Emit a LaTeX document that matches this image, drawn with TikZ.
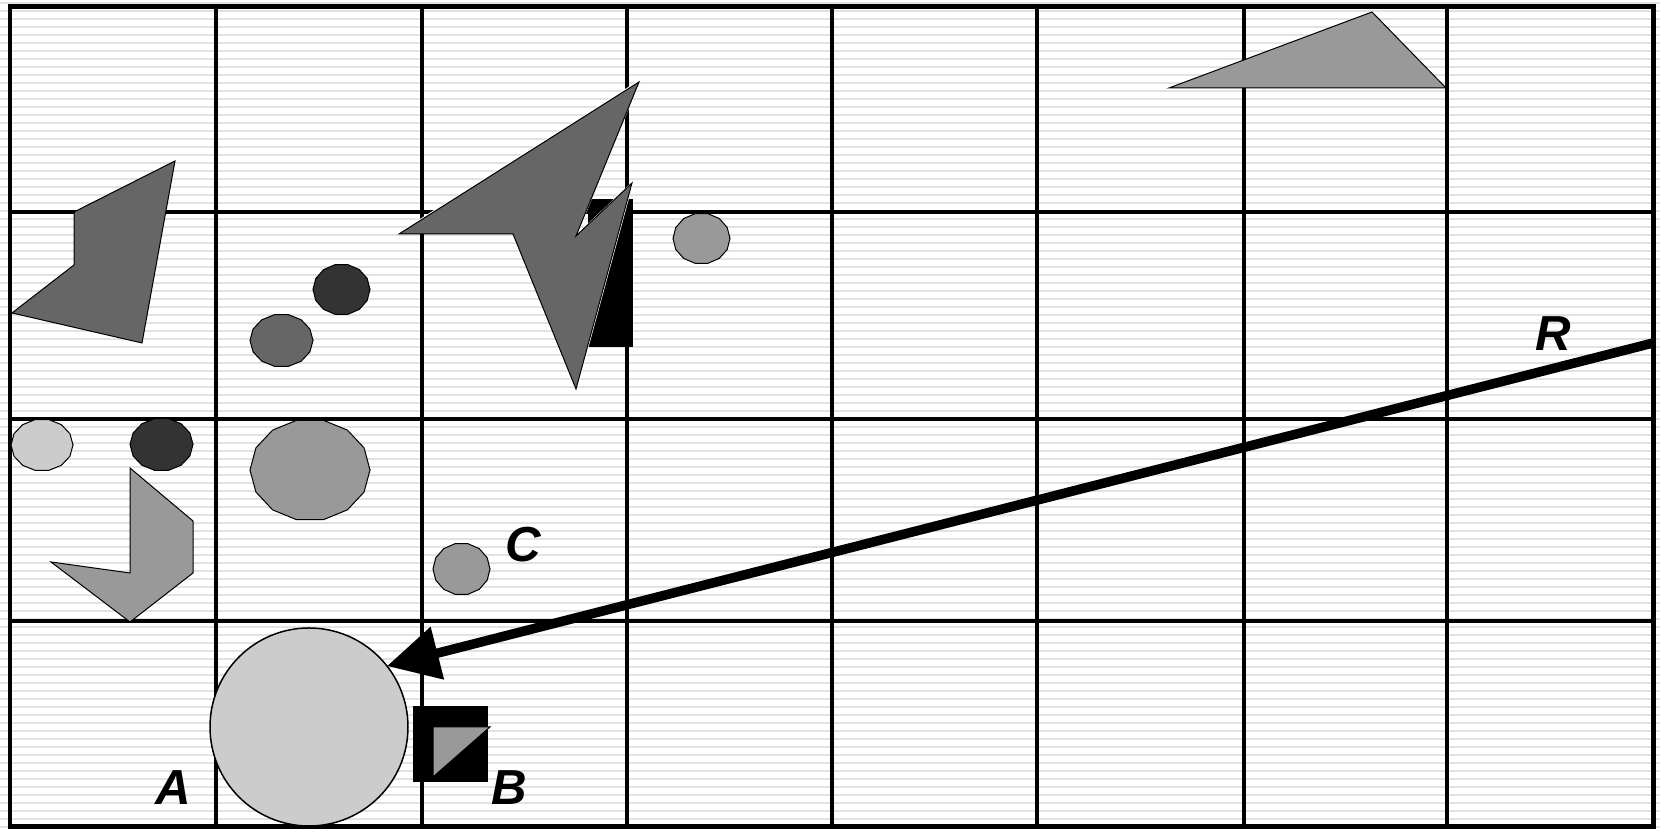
\documentclass[tikz,border=0pt]{standalone}
\usepackage{fontspec}
\setsansfont{Liberation Sans}
\usetikzlibrary{arrows.meta}

\begin{document}
\begin{tikzpicture}[
    every node/.style={font=\sffamily},
    % pixel coordinates of the original: x to the right, y downwards
    x=0.1mm, y=-0.1mm,
]

% ---------------------------------------------------------------- colours
\definecolor{c1}{HTML}{333333}
\definecolor{c2}{HTML}{666666}
\definecolor{c3}{HTML}{999999}
\definecolor{c4}{HTML}{CCCCCC}
\definecolor{stripecolor}{HTML}{E2E2E2}

\tikzset{
    gridline/.style={black, line width=0.45mm},
    frame/.style={black, line width=0.5mm},
    stripe/.style={stripecolor, line width=0.22mm},
    blob/.style={draw=black, line width=0.1mm},
    ray/.style={-{Triangle[length=5.2mm, width=5.2mm]}, black,
                line width=0.95mm},
    lbl/.style={font=\sffamily\bfseries\itshape\fontsize{14}{16}\selectfont,
                inner sep=0pt},
}

\useasboundingbox (0,0) rectangle (1660,829);
\fill[white] (0,0) rectangle (1660,829);

% ---------------------------------------------------------------- stripes
\foreach \k in {0,...,103}
    \draw[stripe] (0, {2.7+8*\k}) -- (1660, {2.7+8*\k});

% ---------------------------------------------------------------- grid
\foreach \gx in {216, 422, 627, 832, 1037, 1244, 1447}
    \draw[gridline] (\gx, 7) -- (\gx, 827);
\foreach \gy in {212, 419, 621}
    \draw[gridline] (10, \gy) -- (1653, \gy);
\draw[frame] (10, 7) rectangle (1653, 827);

% ---------------------------------------------------------------- polygons
\filldraw[blob, fill=c2] (175,161) -- (74,212) -- (74,265) -- (12,313)
    -- (142,343) -- cycle;
\filldraw[blob, fill=c3] (130,468) -- (193,521) -- (193,573) -- (130,622)
    -- (51,562) -- (130,573) -- cycle;
\filldraw[blob, fill=c3] (1169,88) -- (1372,12) -- (1446,88) -- cycle;

% the star and the block behind it
\fill[black] (588,199) rectangle (633,347);
\fill[white, shift={(2,-3)}] (399,234) -- (639,82) -- (576,236) -- (632,183)
    -- (576,389) -- (513,234) -- cycle;
\filldraw[blob, fill=c2] (399,234) -- (639,82) -- (576,236) -- (632,183)
    -- (576,389) -- (513,234) -- cycle;

% ---------------------------------------------------------------- blobs
\foreach \cx/\cy/\rx/\ry/\col in {341.5/289.5/28.5/25.5/c1,
        161.5/444.5/31.5/26.5/c1, 281.5/340.5/31.5/26.5/c2,
        701.5/238.5/28.5/25.5/c3, 310/470/60/51/c3,
        461.5/569/28.5/26/c3, 42/445/31/26/c4}
    \filldraw[blob, fill=\col] plot[domain=0:360, samples=15]
        ({\cx+\rx*cos(\x)}, {\cy+\ry*sin(\x)}) -- cycle;

% ---------------------------------------------------------------- A and B
\node[circle, draw=black, line width=0.15mm, fill=c4, minimum size=19.8mm,
      inner sep=0pt, outer sep=0pt] (circA) at (309,727) {};

\fill[black] (413,706) rectangle (488,782);
\filldraw[blob, fill=c3] (433,727) -- (490,727) -- (433,777) -- cycle;

% ---------------------------------------------------------------- labels
\node[lbl] (labA) at (173,788) {A};
\node[lbl] (labB) at (509,788) {B};
\node[lbl] (labC) at (523,545) {C};
\node[lbl] (labR) at (1553,334) {R};

% ---------------------------------------------------------------- the ray
\coordinate (rStart) at (1653,343);
\draw[ray] (rStart) -- (circA.38);

\end{tikzpicture}
\end{document}
